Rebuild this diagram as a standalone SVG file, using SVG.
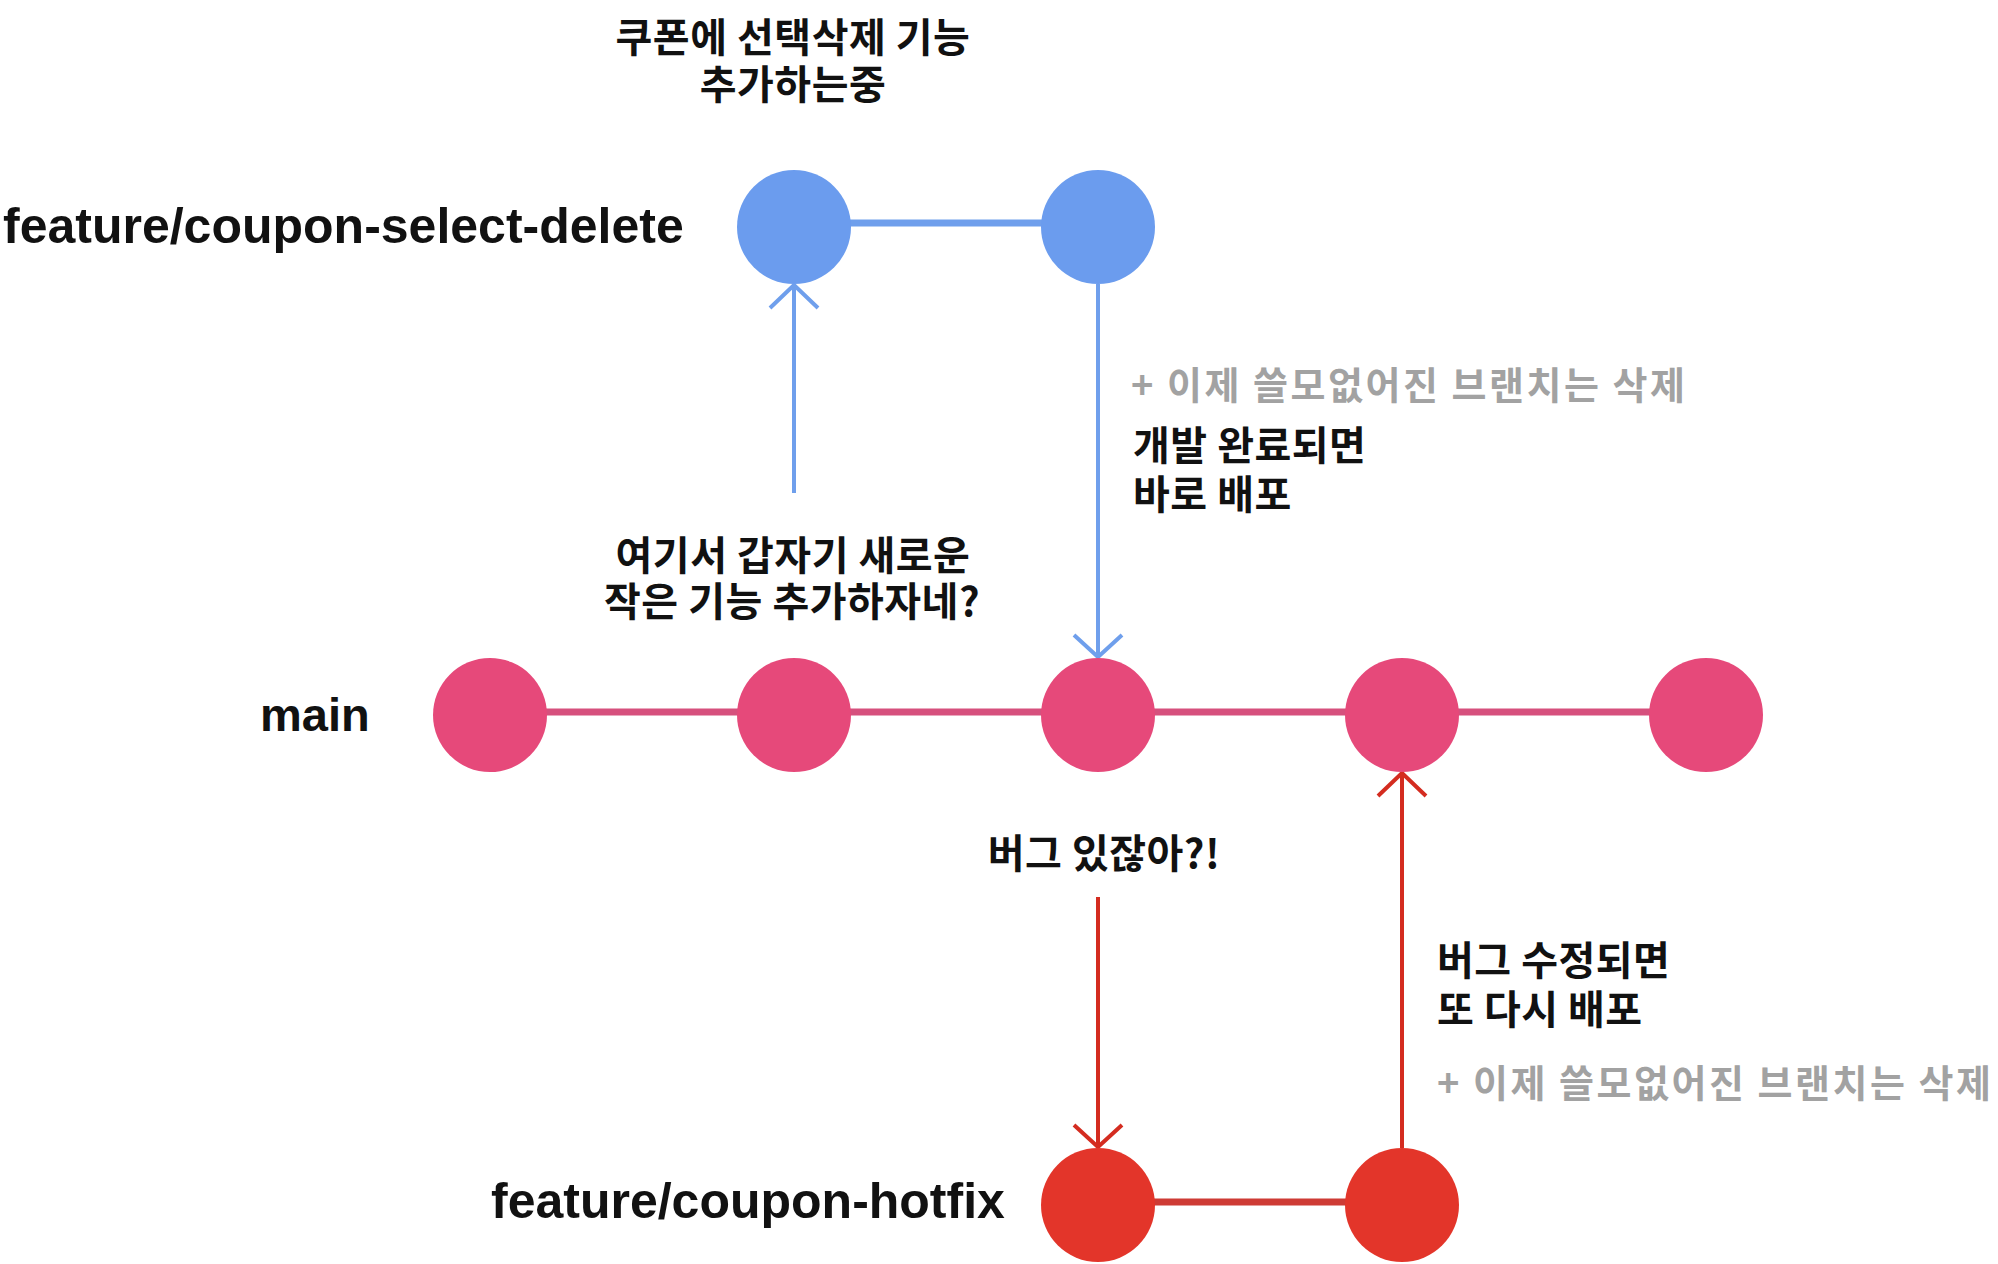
<svg xmlns="http://www.w3.org/2000/svg" width="1998" height="1264" viewBox="0 0 1998 1264">
<style>
  .lbl { font-family: "Liberation Sans", Arial, sans-serif; font-weight: 700; font-size: 50px; fill: #111; }
  .ko { font-family: "Noto Sans CJK KR", "Noto Sans", sans-serif; font-weight: 700; font-size: 40px; letter-spacing: 0.5px; fill: #111; }
  .gray { font-family: "Noto Sans CJK KR", "Noto Sans", sans-serif; font-weight: 700; font-size: 38px; fill: #A2A2A2; }
  .blue { fill: #6B9CEE; }
  .pink { fill: #E6497A; }
  .red { fill: #E3352A; }
  .link-blue { stroke: #6F9FEC; stroke-width: 7; fill: none; }
  .link-pink { stroke: #D6507D; stroke-width: 7; fill: none; }
  .link-red { stroke: #CE3B35; stroke-width: 7; fill: none; }
  .arr-blue { stroke: #6F9FEC; stroke-width: 4; fill: none; }
  .arr-red { stroke: #D42C20; stroke-width: 4; fill: none; }
</style>
<rect width="1998" height="1264" fill="#FFFFFF"/>

<g id="connectors">
  <line class="link-blue" x1="794" y1="223" x2="1098" y2="223"/>
  <line class="link-pink" x1="490" y1="712" x2="1706" y2="712"/>
  <line class="link-red" x1="1098" y1="1202" x2="1402" y2="1202"/>
  <line class="arr-blue" x1="794" y1="493" x2="794" y2="286"/>
  <polyline class="arr-blue" points="770,308 794,285 818,308"/>
  <line class="arr-blue" x1="1098" y1="284" x2="1098" y2="656"/>
  <polyline class="arr-blue" points="1074,635 1098,657 1122,635"/>
  <line class="arr-red" x1="1098" y1="897" x2="1098" y2="1146"/>
  <polyline class="arr-red" points="1074,1125 1098,1147 1122,1125"/>
  <line class="arr-red" x1="1402" y1="1148" x2="1402" y2="775"/>
  <polyline class="arr-red" points="1378,796 1402,773 1426,796"/>
</g>

<g id="feature-branch">
  <text class="lbl" x="3" y="243">feature/coupon-select-delete</text>
  <circle id="f1" class="blue" cx="794" cy="227" r="57"/>
  <circle id="f2" class="blue" cx="1098" cy="227" r="57"/>
</g>

<g id="main-branch">
  <text class="lbl" x="260" y="731" style="font-size:47px">main</text>
  <circle id="m1" class="pink" cx="490" cy="715" r="57"/>
  <circle id="m2" class="pink" cx="794" cy="715" r="57"/>
  <circle id="m3" class="pink" cx="1098" cy="715" r="57"/>
  <circle id="m4" class="pink" cx="1402" cy="715" r="57"/>
  <circle id="m5" class="pink" cx="1706" cy="715" r="57"/>
</g>

<g id="hotfix-branch">
  <text class="lbl" x="491" y="1218">feature/coupon-hotfix</text>
  <circle id="h1" class="red" cx="1098" cy="1205" r="57"/>
  <circle id="h2" class="red" cx="1402" cy="1205" r="57"/>
</g>

<g id="annotations">
  <text class="ko" text-anchor="middle"><tspan x="793" y="52">쿠폰에 선택삭제 기능</tspan><tspan x="793" y="99">추가하는중</tspan></text>
  <text class="ko" text-anchor="middle"><tspan x="793" y="570">여기서 갑자기 새로운</tspan><tspan x="792" y="616">작은 기능 추가하자네?</tspan></text>
  <text class="gray" x="1131" y="399" textLength="554" lengthAdjust="spacing">+ 이제 쓸모없어진 브랜치는 삭제</text>
  <text class="ko"><tspan x="1133" y="460">개발 완료되면</tspan><tspan x="1133" y="509">바로 배포</tspan></text>
  <text class="ko" x="1104" y="868" text-anchor="middle">버그 있잖아?!</text>
  <text class="ko"><tspan x="1437" y="975">버그 수정되면</tspan><tspan x="1437" y="1024">또 다시 배포</tspan></text>
  <text class="gray" x="1437" y="1097" textLength="554" lengthAdjust="spacing">+ 이제 쓸모없어진 브랜치는 삭제</text>
</g>
</svg>
